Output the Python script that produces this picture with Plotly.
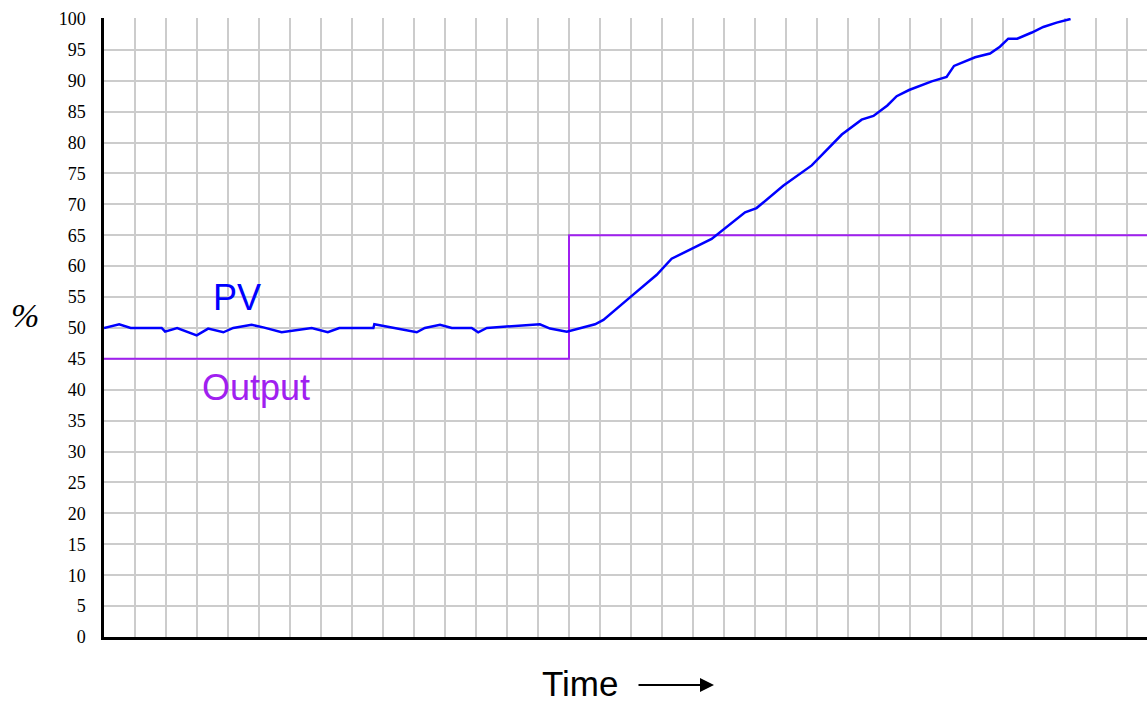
import plotly.graph_objects as go

# Time in grid units (one vertical grid line per unit)
pv_time = [0.0, 0.49, 0.86, 1.86, 1.97, 2.36, 2.99, 3.36, 3.85, 4.17, 4.76, 5.14, 5.73,
           6.70, 7.22, 7.59, 8.69, 8.72, 10.09, 10.35, 10.84, 11.22, 11.86, 12.07, 12.35,
           14.06, 14.39, 14.93, 15.84, 16.11, 16.91, 17.83, 18.31, 19.60, 20.68, 21.05,
           21.91, 22.83, 23.80, 24.44, 24.82, 25.27, 25.57, 25.97, 26.70, 27.18, 27.42,
           27.77, 28.10, 28.58, 28.90, 29.17, 29.46, 29.93, 30.30, 30.73, 31.18]
pv_value = [50.0, 50.6, 50.0, 50.0, 49.4, 50.0, 48.8, 49.9, 49.3, 50.0, 50.5, 50.1, 49.3,
            50.0, 49.3, 50.0, 50.0, 50.6, 49.3, 50.0, 50.5, 50.0, 50.0, 49.3, 50.0,
            50.6, 49.9, 49.4, 50.6, 51.3, 54.7, 58.6, 61.2, 64.4, 68.7, 69.4,
            73.0, 76.3, 81.3, 83.7, 84.3, 86.0, 87.5, 88.5, 89.9, 90.6, 92.4,
            93.1, 93.8, 94.4, 95.5, 96.8, 96.8, 97.8, 98.7, 99.4, 100.0]

out_time = [0.0, 15.0, 15.0, 33.65]
out_value = [45, 45, 65, 65]

y_ticks = list(range(0, 101, 5))

PURPLE = "#A020F0"
BLUE = "#0000FF"

W, H = 1147, 702
L, T = 104, 18
PW, PH = 1043, 619
B = H - T - PH

def px_x(p):
    return (p - L) / PW

def px_y(p):
    return (T + PH - p) / PH

fig = go.Figure()
fig.add_trace(go.Scatter(x=out_time, y=out_value, mode="lines",
                         line=dict(color=PURPLE, width=2), hoverinfo="skip"))
fig.add_trace(go.Scatter(x=pv_time, y=pv_value, mode="lines",
                         line=dict(color=BLUE, width=2.5), hoverinfo="skip"))

fig.update_layout(
    width=W, height=H,
    margin=dict(l=L, r=0, t=T, b=B),
    paper_bgcolor="white", plot_bgcolor="white",
    showlegend=False,
    xaxis=dict(range=[0, 33.645], dtick=1, tick0=0, showgrid=True,
               gridcolor="#cccccc", gridwidth=2, showticklabels=False,
               zeroline=False, showline=True, linecolor="black", linewidth=2.5,
               ticks=""),
    yaxis=dict(range=[0, 100.15], tickvals=y_ticks, showgrid=True,
               gridcolor="#cccccc", gridwidth=2, zeroline=False,
               showline=True, linecolor="black", linewidth=2.5,
               ticks="", ticklabelstandoff=12,
               tickfont=dict(family="Liberation Serif", size=18, color="black")),
    annotations=[
        dict(text="PV", x=4.3, y=55, xref="x", yref="y", showarrow=False,
             font=dict(family="Liberation Sans", size=36, color=BLUE)),
        dict(text="Output", x=4.9, y=40.4, xref="x", yref="y", showarrow=False,
             font=dict(family="Liberation Sans", size=36, color=PURPLE)),
        dict(text="<i>%</i>", x=px_x(25), y=px_y(315), xref="paper", yref="paper",
             showarrow=False, xanchor="center", yanchor="middle",
             font=dict(family="Liberation Serif", size=34, color="black")),
        dict(text="Time", x=px_x(580), y=px_y(683), xref="paper", yref="paper",
             showarrow=False, xanchor="center", yanchor="middle", borderpad=0,
             font=dict(family="Liberation Sans", size=35, color="black")),
        dict(text="", x=px_x(714), y=px_y(685), xref="paper", yref="paper",
             showarrow=True, ax=-77, ay=0, arrowhead=2, arrowsize=1.4,
             arrowwidth=2, arrowcolor="black"),
    ],
)

fig.write_html("out.html", config={"displayModeBar": False},
               post_script="document.body.style.margin='0';"
                           "document.body.style.overflow='hidden';")
